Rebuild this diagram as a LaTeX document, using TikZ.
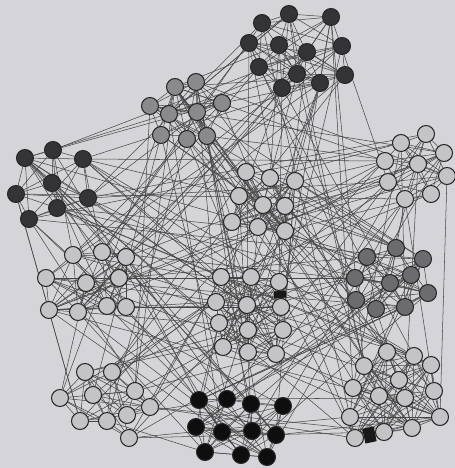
\documentclass[tikz,border=0pt]{standalone}
\usepackage{tikz}

\pgfdeclarelayer{edgelayer}
\pgfsetlayers{edgelayer,main}

\definecolor{paper}{RGB}{213,213,217}
\definecolor{lightfill}{RGB}{196,196,198}
\definecolor{midfill}{RGB}{138,138,140}
\definecolor{greyfill}{RGB}{108,108,110}
\definecolor{darkfill}{RGB}{52,52,54}
\definecolor{blackfill}{RGB}{14,14,14}

\tikzset{
  vtx/.style={circle, draw=black!85, line width=0.9pt, minimum size=0.51cm, inner sep=0pt},
  lightv/.style={vtx, fill=lightfill},
  midv/.style={vtx, fill=midfill},
  greyv/.style={vtx, fill=greyfill},
  darkv/.style={vtx, fill=darkfill},
  blackv/.style={vtx, fill=blackfill},
  link/.style={draw=black!72, line width=0.45pt},
  joint/.style={draw=black!90},
}

% dense links inside one group
\newcommand\grouplinks[3]{%
  \foreach \i in {1,...,#2}{
    \foreach \j in {1,...,#2}{
      \ifnum\i<\j
        \pgfmathsetmacro\p{rnd}
        \ifdim\p pt<#3pt \draw[link] (#1\i) -- (#1\j); \fi
      \fi
    }
  }%
}

\begin{document}
\begin{tikzpicture}[x=0.03cm, y=-0.03cm]
  \useasboundingbox (0,0) rectangle (455,468);
  \pgfmathsetseed{2718}

  % groups
  \foreach \n/\x/\y in {1/289/14, 2/262/23, 3/331/17, 4/249/43, 5/279/45, 6/307/52,
      7/342/46, 8/259/67, 9/297/74, 10/320/83, 11/345/75, 12/282/88}
    \node[darkv] (a\n) at (\x,\y) {};
  \foreach \n/\x/\y in {1/175/87, 2/196/82, 3/150/106, 4/169/114, 5/197/112,
      6/222/103, 7/161/135, 8/187/139, 9/207/136}
    \node[midv] (b\n) at (\x,\y) {};
  \foreach \n/\x/\y in {1/25/158, 2/53/150, 3/83/159, 4/52/183, 5/16/194,
      6/88/198, 7/57/208, 8/29/219}
    \node[darkv] (c\n) at (\x,\y) {};
  \foreach \n/\x/\y in {1/426/134, 2/401/143, 3/444/153, 4/385/161, 5/418/164,
      6/447/176, 7/388/182, 8/431/194, 9/405/199}
    \node[lightv] (d\n) at (\x,\y) {};
  \foreach \n/\x/\y in {1/246/172, 2/270/178, 3/295/181, 4/239/196, 5/263/205,
      6/285/206, 7/232/222, 8/258/227, 9/285/231}
    \node[lightv] (e\n) at (\x,\y) {};
  \foreach \n/\x/\y in {1/73/255, 2/102/252, 3/126/257, 4/46/278, 5/86/283,
      6/119/278, 7/49/310, 8/78/312, 9/107/306, 10/126/307}
    \node[lightv] (f\n) at (\x,\y) {};
  \foreach \n/\x/\y in {1/221/277, 2/251/277, 3/279/282, 4/216/302, 5/247/305,
      6/281/307, 7/219/323, 8/248/330, 9/283/330, 10/223/347, 11/248/352, 12/276/354}
    \node[lightv] (g\n) at (\x,\y) {};
  \foreach \n/\x/\y in {1/396/248, 2/367/257, 3/423/259, 4/411/275, 5/355/278,
      6/390/283, 7/428/293, 8/356/300, 9/376/309, 10/405/307}
    \node[greyv] (h\n) at (\x,\y) {};
  \foreach \n/\x/\y in {1/387/352, 2/414/356, 3/364/366, 4/431/365, 5/399/380,
      6/353/388, 7/379/396, 8/405/398, 9/434/391, 10/350/417, 11/440/417,
      12/412/428, 13/355/438, 14/384/432}
    \node[lightv] (i\n) at (\x,\y) {};
  \foreach \n/\x/\y in {1/199/400, 2/227/399, 3/251/404, 4/283/406, 5/196/427,
      6/222/432, 7/252/431, 8/276/435, 9/205/452, 10/241/455, 11/267/457}
    \node[blackv] (j\n) at (\x,\y) {};
  \foreach \n/\x/\y in {1/85/372, 2/112/372, 3/60/398, 4/93/395, 5/135/391,
      6/150/407, 7/80/421, 8/107/421, 9/127/415, 10/129/438}
    \node[lightv] (k\n) at (\x,\y) {};

  \begin{pgfonlayer}{edgelayer}
    \fill[paper] (0,0) rectangle (455,468);
    % inside the groups
    \foreach \c/\m in {a/12, b/9, c/8, d/9, e/9, f/10, g/12, h/10, i/14, j/11, k/10}
      {\grouplinks{\c}{\m}{0.75}}
    % between the groups
    \foreach \c/\m [count=\ci from 0] in {a/12, b/9, c/8, d/9, e/9, f/10, g/12, h/10, i/14, j/11, k/10}{
      \foreach \i in {1,...,\m}{
        \foreach \t in {1,2}{
          \pgfmathrandominteger{\r}{0}{9}
          \ifnum\r<\ci \else \pgfmathtruncatemacro\r{\r+1}\fi
          \pgfmathsetmacro\other{{"a","b","c","d","e","f","g","h","i","j","k"}[\r]}
          \pgfmathtruncatemacro\sz{{12,9,8,9,9,10,12,10,14,11,10}[\r]}
          \pgfmathrandominteger{\s}{1}{\sz}
          \draw[link] (\c\i) -- (\other\s);
        }
      }
    }
    \draw[joint, line width=0.36cm] (g3) -- (g6);
    \draw[joint, line width=0.45cm] (i13) -- (i14);
  \end{pgfonlayer}
\end{tikzpicture}
\end{document}
